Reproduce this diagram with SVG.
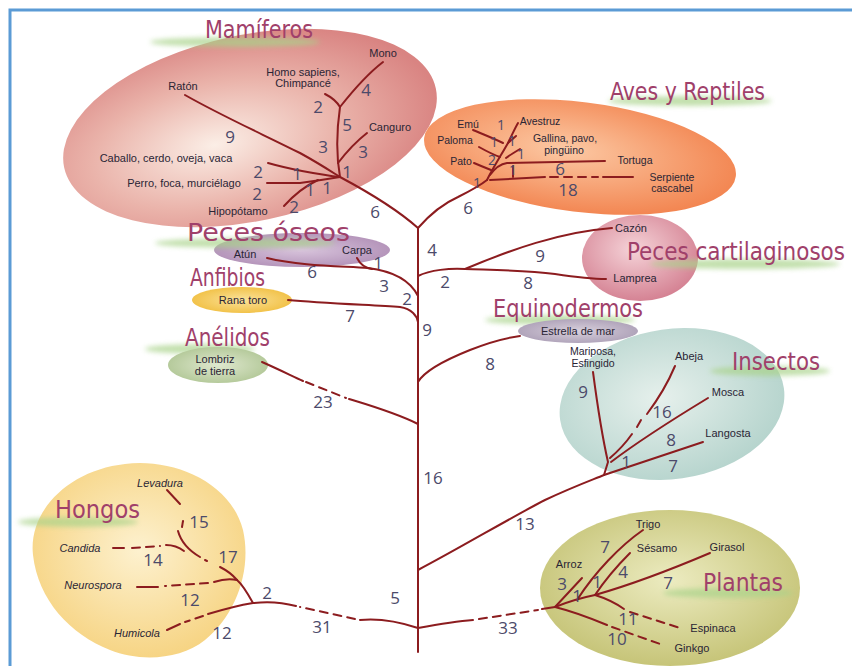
<svg xmlns="http://www.w3.org/2000/svg" width="852" height="666" viewBox="0 0 852 666">
<defs>
<radialGradient id="gMam" cx="0.4" cy="0.55" r="0.6"><stop offset="0" stop-color="#fbeee6"/><stop offset="0.55" stop-color="#eab3aa"/><stop offset="1" stop-color="#d98482"/></radialGradient>
<radialGradient id="gAve" cx="0.45" cy="0.45" r="0.6"><stop offset="0" stop-color="#fcc9a4"/><stop offset="1" stop-color="#f2824d"/></radialGradient>
<radialGradient id="gCar" cx="0.45" cy="0.4" r="0.6"><stop offset="0" stop-color="#f5d3d8"/><stop offset="1" stop-color="#d58394"/></radialGradient>
<radialGradient id="gIns" cx="0.45" cy="0.45" r="0.6"><stop offset="0" stop-color="#e6f0ec"/><stop offset="1" stop-color="#b4d3cc"/></radialGradient>
<radialGradient id="gPla" cx="0.5" cy="0.45" r="0.6"><stop offset="0" stop-color="#ecebc0"/><stop offset="1" stop-color="#c3c172"/></radialGradient>
<radialGradient id="gHon" cx="0.5" cy="0.45" r="0.6"><stop offset="0" stop-color="#fdf1cf"/><stop offset="1" stop-color="#f6d27e"/></radialGradient>
<radialGradient id="gOse" cx="0.5" cy="0.5" r="0.6"><stop offset="0" stop-color="#d8c4dc"/><stop offset="1" stop-color="#ae8cb4"/></radialGradient>
<radialGradient id="gAnf" cx="0.5" cy="0.5" r="0.6"><stop offset="0" stop-color="#fbe29a"/><stop offset="1" stop-color="#f0bc3a"/></radialGradient>
<radialGradient id="gAne" cx="0.5" cy="0.5" r="0.6"><stop offset="0" stop-color="#dfe8cf"/><stop offset="1" stop-color="#adc491"/></radialGradient>
<radialGradient id="gEst" cx="0.5" cy="0.5" r="0.6"><stop offset="0" stop-color="#d8d0dc"/><stop offset="1" stop-color="#a99cb4"/></radialGradient>
<filter id="blur" x="-20%" y="-150%" width="140%" height="400%"><feGaussianBlur stdDeviation="2.5"/></filter>
</defs>
<style>
.br{fill:none;stroke:#8c1c1f;stroke-width:2;stroke-linecap:round}
.ds{stroke-dasharray:8 6}
.n{font-family:"Open Sans","Liberation Sans",sans-serif;font-size:17px;fill:#4c4a6a;text-anchor:middle}
.ns{font-size:14px}
.s{font-family:"Liberation Sans",Arial,sans-serif;font-size:11px;fill:#2a2535;text-anchor:middle}
.sa{font-size:10.5px}
.i{font-style:italic}
.t{font-family:"DejaVu Sans Condensed","Liberation Sans Narrow",sans-serif;font-size:24px;fill:#a0406a}
.g{fill:#a9d38a;opacity:0.7;filter:url(#blur)}
</style>
<rect width="852" height="666" fill="#ffffff"/>
<path d="M10,666 V10 H852" fill="none" stroke="#5b9bd5" stroke-width="3"/>

<g id="mamiferos">
<ellipse cx="250" cy="128" rx="190" ry="93" transform="rotate(-12 250 128)" fill="url(#gMam)"/>
<ellipse class="g" cx="235" cy="42" rx="85" ry="5"/>
<text class="t" x="205" y="38" textLength="108" lengthAdjust="spacingAndGlyphs" fill="#a0405e">Mamíferos</text>
<text class="s" x="383" y="57">Mono</text>
<text class="s" x="303" y="76">Homo sapiens,</text>
<text class="s" x="303" y="87">Chimpancé</text>
<text class="s" x="183" y="90">Ratón</text>
<text class="s" x="390" y="131">Canguro</text>
<text class="s" x="166" y="162">Caballo, cerdo, oveja, vaca</text>
<text class="s" x="184" y="187">Perro, foca, murciélago</text>
<text class="s" x="238" y="215">Hipopótamo</text>
</g>

<g id="aves">
<ellipse cx="580" cy="157" rx="157" ry="55" transform="rotate(7 580 157)" fill="url(#gAve)"/>
<ellipse class="g" cx="690" cy="101" rx="82" ry="5"/>
<text class="t" x="610" y="100" textLength="155" lengthAdjust="spacingAndGlyphs" fill="#8c3a6c">Aves y Reptiles</text>
<text class="s sa" x="468" y="128">Emú</text>
<text class="s sa" x="455" y="144">Paloma</text>
<text class="s sa" x="461" y="165">Pato</text>
<text class="s sa" x="540" y="125">Avestruz</text>
<text class="s sa" x="565" y="142">Gallina, pavo,</text>
<text class="s sa" x="564" y="154">pingüino</text>
<text class="s sa" x="635" y="164">Tortuga</text>
<text class="s sa" x="672" y="181">Serpiente</text>
<text class="s sa" x="672" y="192">cascabel</text>
</g>

<g id="peces-oseos">
<ellipse cx="302" cy="250" rx="88" ry="17" fill="url(#gOse)"/>
<ellipse class="g" cx="245" cy="243" rx="90" ry="5"/>
<text class="t" x="187" y="241" textLength="163" lengthAdjust="spacingAndGlyphs" fill="#ab4a8c">Peces óseos</text>
<text class="s" x="245" y="258">Atún</text>
<text class="s" x="357" y="254">Carpa</text>
</g>

<g id="anfibios">
<ellipse cx="242" cy="300" rx="50" ry="13" fill="url(#gAnf)"/>
<text class="t" x="190" y="286" textLength="75" lengthAdjust="spacingAndGlyphs" fill="#a0407a">Anfibios</text>
<text class="s" x="243" y="304">Rana toro</text>
</g>

<g id="anelidos">
<ellipse class="g" cx="200" cy="349" rx="55" ry="5"/>
<ellipse cx="218" cy="365" rx="50" ry="18" fill="url(#gAne)"/>
<text class="t" x="185" y="346" textLength="85" lengthAdjust="spacingAndGlyphs" fill="#a04070">Anélidos</text>
<text class="s" x="215" y="363">Lombriz</text>
<text class="s" x="215" y="375">de tierra</text>
</g>

<g id="peces-cartilaginosos">
<ellipse cx="640" cy="258" rx="58" ry="43" fill="url(#gCar)"/>
<ellipse class="g" cx="745" cy="264" rx="95" ry="5"/>
<text class="t" x="627" y="260" textLength="218" lengthAdjust="spacingAndGlyphs" fill="#a83a5e">Peces cartilaginosos</text>
<text class="s" x="631" y="232">Cazón</text>
<text class="s" x="635" y="282">Lamprea</text>
</g>

<g id="equinodermos">
<ellipse class="g" cx="560" cy="320" rx="75" ry="5"/>
<text class="t" x="493" y="317" textLength="150" lengthAdjust="spacingAndGlyphs" fill="#9c3a62">Equinodermos</text>
<ellipse cx="578" cy="331" rx="60" ry="12" fill="url(#gEst)"/>
<text class="s" x="578" y="335">Estrella de mar</text>
</g>

<g id="insectos">
<ellipse cx="672" cy="404" rx="113" ry="75" transform="rotate(-8 672 404)" fill="url(#gIns)"/>
<ellipse class="g" cx="770" cy="371" rx="60" ry="5"/>
<text class="t" x="732" y="370" textLength="88" lengthAdjust="spacingAndGlyphs" fill="#a8306a">Insectos</text>
<text class="s sa" x="593" y="355">Mariposa,</text>
<text class="s sa" x="593" y="367">Esfingido</text>
<text class="s" x="689" y="360">Abeja</text>
<text class="s" x="728" y="396">Mosca</text>
<text class="s" x="728" y="437">Langosta</text>
</g>

<g id="hongos">
<path d="M125,464 C170,458 230,480 243,530 C252,570 236,615 205,640 C180,660 140,662 110,650 C70,634 38,600 33,555 C28,510 70,470 125,464 Z" fill="url(#gHon)"/>
<ellipse class="g" cx="78" cy="522" rx="60" ry="5"/>
<text class="t" x="55" y="518" textLength="85" lengthAdjust="spacingAndGlyphs" fill="#c2405e">Hongos</text>
<text class="s i" x="160" y="487">Levadura</text>
<text class="s i" x="80" y="552">Candida</text>
<text class="s i" x="93" y="589">Neurospora</text>
<text class="s i" x="137" y="637">Humicola</text>
</g>

<g id="plantas">
<ellipse cx="670" cy="588" rx="130" ry="78" fill="url(#gPla)"/>
<ellipse class="g" cx="728" cy="593" rx="65" ry="5"/>
<text class="t" x="703" y="591" textLength="80" lengthAdjust="spacingAndGlyphs" fill="#b0405c">Plantas</text>
<text class="s" x="648" y="528">Trigo</text>
<text class="s" x="657" y="552">Sésamo</text>
<text class="s" x="727" y="551">Girasol</text>
<text class="s" x="569" y="568">Arroz</text>
<text class="s" x="713" y="632">Espinaca</text>
<text class="s" x="692" y="652">Ginkgo</text>
</g>

<g id="connectors">
<path class="br" d="M418,652 V228"/>
<path class="br" d="M418,228 C400,212 370,193 340,177"/>
<path class="br" d="M418,228 C425,220 440,205 458,197 C472,190 482,184 487,180"/>
<path class="br" d="M185,95 C220,115 260,133 300,153 C320,164 332,172 340,177"/>
<path class="br" d="M340,177 C337,160 336,135 340,107 C355,88 370,72 383,62"/>
<path class="br" d="M325,94 C333,98 337,102 340,107"/>
<path class="br" d="M338,163 C348,150 358,140 367,133"/>
<path class="br" d="M268,163 C282,167 292,169 302,171 C318,174 330,176 340,177"/>
<path class="br" d="M267,183 L300,183 C315,181 328,179 340,177"/>
<path class="br" d="M284,206 C293,196 303,187 318,180"/>
<path class="br" d="M487,180 C493,168 500,157 508,143 C512,135 515,128 518,123"/>
<path class="br" d="M473,130 C485,135 495,139 503,143"/>
<path class="br" d="M479,147 C488,152 494,155 500,157"/>
<path class="br" d="M474,163 C481,166 486,168 491,170"/>
<path class="br" d="M506,158 C510,155 515,152 520,149"/>
<path class="br" d="M508,143 L516,136"/>
<path class="br" d="M490,175 C495,168 500,164 507,163 L605,161"/>
<path class="br" d="M490,180 L545,177"/>
<path class="br" d="M513,166 V177"/>
<path class="br ds" d="M550,177 L598,177"/>
<path class="br" d="M603,177 L633,177"/>
<path class="br" d="M418,276 C430,270 450,268 465,269"/>
<path class="br" d="M465,269 C510,250 560,232 612,228"/>
<path class="br" d="M465,269 C495,270 525,270 555,274 C575,277 592,279 606,279"/>
<path class="br" d="M267,258 C300,266 340,266 368,268 C392,271 410,280 418,296"/>
<path class="br" d="M357,258 C360,264 365,268 372,269"/>
<path class="br" d="M288,300 C320,303 370,305 400,307 C412,309 417,316 418,322"/>
<path class="br" d="M418,382 C425,370 445,360 470,350 C490,342 505,338 520,336"/>
<path class="br" d="M262,362 C278,369 292,376 303,381"/>
<path class="br ds" d="M306,382 L346,398"/>
<path class="br" d="M349,399 C372,406 396,413 418,424"/>
<path class="br" d="M418,570 C460,548 510,518 545,500 C575,486 592,480 604,475 L703,442"/>
<path class="br" d="M593,372 C598,410 603,440 608,462 L604,475"/>
<path class="br" d="M708,398 C680,415 640,440 611,462"/>
<path class="br" d="M675,366 C667,385 656,402 647,414"/>
<path class="br" d="M641,420 L637,427"/>
<path class="br" d="M632,434 C625,444 617,452 610,458"/>
<path class="br" d="M418,628 C400,622 380,618 360,620"/>
<path class="br ds" d="M355,619 L300,607"/>
<path class="br" d="M296,606 C285,603 270,601 253,603"/>
<path class="br" d="M253,603 C235,606 218,611 208,614"/>
<path class="br ds" d="M203,616 L185,622"/>
<path class="br" d="M180,624 L167,630"/>
<path class="br" d="M253,603 C248,594 243,585 237,580"/>
<path class="br" d="M237,580 C228,578 220,580 214,582"/>
<path class="br ds" d="M208,583 L165,586"/>
<path class="br" d="M158,587 L137,587"/>
<path class="br" d="M237,580 C232,574 226,570 220,567"/>
<path class="br" d="M207,561 L205,560"/>
<path class="br" d="M167,490 L180,504"/>
<path class="br" d="M183,521 L182,527"/>
<path class="br" d="M178,531 C181,542 188,550 200,557"/>
<path class="br" d="M113,548 L124,548"/>
<path class="br ds" d="M132,548 L160,546"/>
<path class="br" d="M166,545 C174,545 180,548 184,551"/>
<path class="br" d="M418,628 C440,624 460,621 473,620"/>
<path class="br ds" d="M479,619 L538,610"/>
<path class="br" d="M542,609 L555,607"/>
<path class="br" d="M555,607 L582,578"/>
<path class="br" d="M577,600 C595,572 620,546 643,530"/>
<path class="br" d="M555,607 C570,601 585,597 595,595"/>
<path class="br" d="M595,595 C605,580 618,565 630,553"/>
<path class="br" d="M595,595 C630,585 670,570 710,553"/>
<path class="br" d="M595,595 C608,599 617,604 624,609"/>
<path class="br ds" d="M630,612 L680,628"/>
<path class="br" d="M555,607 C575,612 595,620 607,625"/>
<path class="br ds" d="M612,627 L663,645"/>
</g>

<g id="branch-numbers">
<text class="n" x="230" y="143">9</text>
<text class="n" x="258" y="178">2</text>
<text class="n" x="297" y="180">1</text>
<text class="n" x="257" y="200">2</text>
<text class="n" x="310" y="196">1</text>
<text class="n" x="327" y="194">1</text>
<text class="n" x="294" y="213">2</text>
<text class="n" x="323" y="153">3</text>
<text class="n" x="318" y="113">2</text>
<text class="n" x="366" y="96">4</text>
<text class="n" x="347" y="131">5</text>
<text class="n" x="363" y="158">3</text>
<text class="n" x="347" y="178">1</text>
<text class="n" x="375" y="218">6</text>
<text class="n ns" x="501" y="130">1</text>
<text class="n ns" x="494" y="147">1</text>
<text class="n ns" x="512" y="146">1</text>
<text class="n ns" x="521" y="159">1</text>
<text class="n ns" x="492" y="165">2</text>
<text class="n ns" x="513" y="175">1</text>
<text class="n ns" x="477" y="188">1</text>
<text class="n" x="560" y="175">6</text>
<text class="n" x="568" y="196">18</text>
<text class="n" x="468" y="214">6</text>
<text class="n" x="432" y="256">4</text>
<text class="n" x="540" y="262">9</text>
<text class="n" x="445" y="288">2</text>
<text class="n" x="528" y="289">8</text>
<text class="n" x="378" y="269">1</text>
<text class="n" x="312" y="278">6</text>
<text class="n" x="384" y="292">3</text>
<text class="n" x="407" y="305">2</text>
<text class="n" x="350" y="322">7</text>
<text class="n" x="427" y="336">9</text>
<text class="n" x="490" y="370">8</text>
<text class="n" x="323" y="408">23</text>
<text class="n" x="433" y="484">16</text>
<text class="n" x="583" y="398">9</text>
<text class="n" x="662" y="418">16</text>
<text class="n" x="671" y="446">8</text>
<text class="n" x="626" y="468">1</text>
<text class="n" x="673" y="472">7</text>
<text class="n" x="525" y="530">13</text>
<text class="n" x="395" y="604">5</text>
<text class="n" x="322" y="633">31</text>
<text class="n" x="508" y="634">33</text>
<text class="n" x="267" y="599">2</text>
<text class="n" x="199" y="528">15</text>
<text class="n" x="228" y="563">17</text>
<text class="n" x="153" y="566">14</text>
<text class="n" x="190" y="606">12</text>
<text class="n" x="222" y="639">12</text>
<text class="n" x="605" y="553">7</text>
<text class="n" x="562" y="590">3</text>
<text class="n" x="597" y="588">1</text>
<text class="n" x="577" y="602">1</text>
<text class="n" x="623" y="578">4</text>
<text class="n" x="668" y="589">7</text>
<text class="n" x="628" y="625">11</text>
<text class="n" x="617" y="645">10</text>
</g>
</svg>
